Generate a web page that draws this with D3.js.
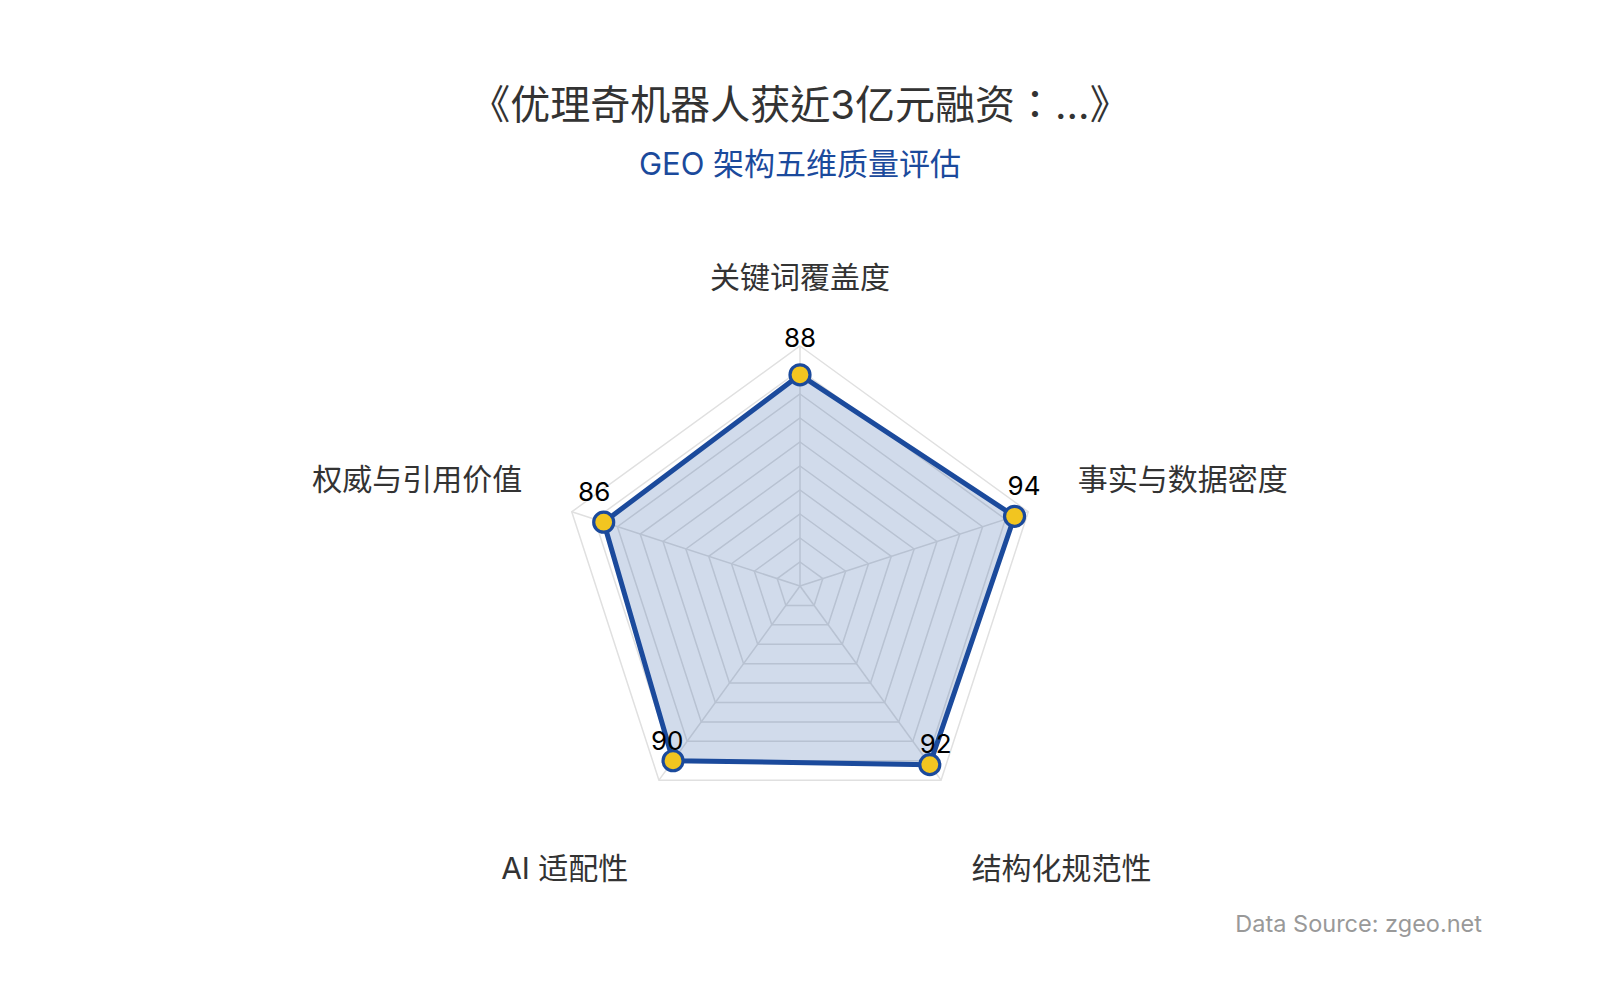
<!DOCTYPE html>
<html>
<head>
<meta charset="utf-8">
<script src="https://cdn.jsdelivr.net/npm/d3@7"></script>
<style>
  html, body { margin: 0; padding: 0; background: #fff; }
  svg text { font-family: "Inter", "Noto Sans CJK SC", sans-serif; }
  svg text.title { font-family: "Inter", "Noto Sans CJK TC", "Noto Sans CJK SC", sans-serif; }
</style>
</head>
<body>
<div id="chart"></div>
<script>
const WIDTH = 1600, HEIGHT = 1000;
const CX = 800, CY = 586, R = 240;

const TITLE = "《优理奇机器人获近3亿元融资：...》";
const SUBTITLE = "GEO 架构五维质量评估";
const SOURCE = "Data Source: zgeo.net";
const axes = ["关键词覆盖度", "事实与数据密度", "结构化规范性", "AI 适配性", "权威与引用价值"];
const scores = [88, 94, 92, 90, 86];
const maxScore = 100;
const rings = d3.range(10, 101, 10);

const BLUE = "#1b4a9c";

const svg = d3.select("#chart")
    .append("svg")
    .attr("width", WIDTH)
    .attr("height", HEIGHT)

const r = d3.scaleLinear().domain([0, maxScore]).range([0, R]);
const angle = d3.scalePoint().domain(axes).range([0, 2 * Math.PI * (axes.length - 1) / axes.length]);
// direction of each spoke, 0 = straight up, clockwise
const dir = name => [Math.sin(angle(name)), -Math.cos(angle(name))];
const pt = (name, v) => [CX + dir(name)[0] * r(v), CY + dir(name)[1] * r(v)];

svg.append("text")
    .attr("class", "title")
    .attr("x", CX).attr("y", 104)
    .attr("text-anchor", "middle").attr("dominant-baseline", "central")
    .attr("font-size", 40).attr("fill", "#333")
    .text(TITLE)

svg.append("text")
    .attr("x", CX).attr("y", 163)
    .attr("text-anchor", "middle").attr("dominant-baseline", "central")
    .attr("font-size", 31).attr("fill", BLUE)
    .text(SUBTITLE)

// grid rings + spokes
const grid = svg.append("g")
grid.selectAll("polygon.ring").data(rings).enter().append("polygon")
    .attr("class", "ring")
    .attr("points", v => axes.map(a => pt(a, v).join(",")).join(" "))
    .attr("fill", "none")
    .attr("stroke", "#e0e0e0")
    .attr("stroke-width", 1.5)
grid.selectAll("line").data(axes).enter().append("line")
    .attr("x1", CX).attr("y1", CY)
    .attr("x2", a => pt(a, maxScore)[0])
    .attr("y2", a => pt(a, maxScore)[1])
    .attr("stroke", "#e0e0e0")
    .attr("stroke-width", 1.5)

// axis names, placed beyond the outer ring like echarts does
const nameGap = 52;
svg.selectAll("text.axis-name").data(axes).enter().append("text")
    .attr("class", "axis-name")
    .attr("x", a => CX + dir(a)[0] * (R + nameGap))
    .attr("y", a => CY + dir(a)[1] * (R + nameGap) + (dir(a)[1] > 0 ? 46 : -17))
    .attr("text-anchor", a => Math.abs(dir(a)[0]) < 0.01 ? "middle" : dir(a)[0] > 0 ? "start" : "end")
    .attr("dominant-baseline", "central")
    .attr("font-size", 30)
    .attr("fill", "#333")
    .text(a => a)

// data area
const data = axes.map((a, i) => ({ axis: a, value: scores[i] }));
svg.append("polygon")
    .attr("points", data.map(d => pt(d.axis, d.value).join(",")).join(" "))
    .attr("fill", BLUE)
    .attr("fill-opacity", 0.2)
    .attr("stroke", BLUE)
    .attr("stroke-width", 5)
    .attr("stroke-linejoin", "round")

svg.selectAll("circle.dot").data(data).enter().append("circle")
    .attr("class", "dot")
    .attr("cx", d => pt(d.axis, d.value)[0])
    .attr("cy", d => pt(d.axis, d.value)[1])
    .attr("r", 10)
    .attr("fill", "#f2c520")
    .attr("stroke", BLUE)
    .attr("stroke-width", 3.2)

svg.selectAll("text.val").data(data).enter().append("text")
    .attr("class", "val")
    .attr("x", d => pt(d.axis, d.value)[0] + dir(d.axis)[0] * 10)
    .attr("y", d => pt(d.axis, d.value)[1] + dir(d.axis)[1] * 9 - 28)
    .attr("text-anchor", "middle").attr("dominant-baseline", "central")
    .attr("font-size", 26).attr("fill", "#000")
    .text(d => d.value)

svg.append("text")
    .attr("x", 1482).attr("y", 923)
    .attr("text-anchor", "end").attr("dominant-baseline", "central")
    .attr("font-size", 23.5).attr("fill", "#999")
    .text(SOURCE)
</script>
</body>
</html>
